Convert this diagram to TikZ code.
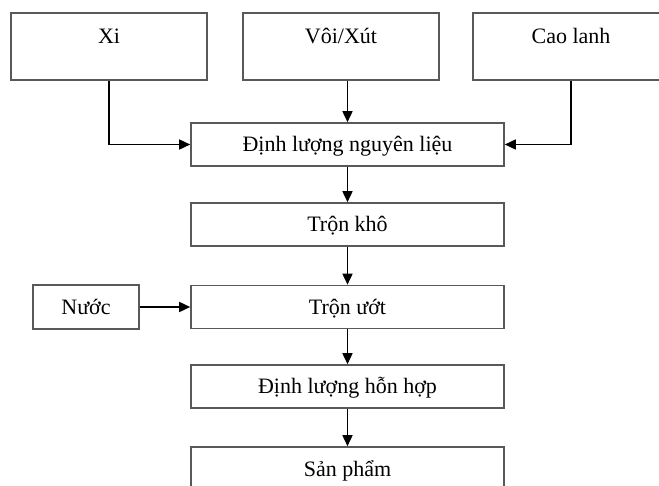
\documentclass[tikz,border=0pt]{standalone}
\usepackage{fontspec}
\setmainfont{Liberation Serif}
\usetikzlibrary{arrows.meta}

\tikzset{
  box/.style={draw=black!65, line width=1.6pt, minimum width=313pt,
    minimum height=43pt, inner sep=0pt, text height=15pt, text depth=0pt,
    font=\fontsize{22}{26}\selectfont},
  srcbox/.style={box, minimum width=196pt, minimum height=67pt, text depth=20pt},
  flow/.style={-{Triangle[length=11pt,width=10pt]}, line width=1.6pt},
}

\begin{document}
\begin{tikzpicture}[x=1pt,y=-1pt]
  \useasboundingbox (0,0) rectangle (659,486);
  \clip (0,0) rectangle (659,486);

  %% raw materials
  \node[srcbox] (xi)  at (109,46.5) {Xi};
  \node[srcbox] (voi) at (341,46.5) {Vôi/Xút};
  \node[srcbox] (cao) at (571,46.5) {Cao lanh};

  %% main line
  \node[box] (dlnl)    at (347.5,144.5) {Định lượng nguyên liệu};
  \node[box] (tronkho) at (347.5,224.5) {Trộn khô};
  \node[box] (tronuot) at (347.5,307)   {Trộn ướt};
  \node[box] (dlhh)    at (347.5,386.5) {Định lượng hỗn hợp};
  \node[box] (sanpham) at (347.5,468.5) {Sản phẩm};

  %% water
  \node[box, minimum width=106pt, minimum height=44pt] (nuoc) at (86,307) {Nước};

  %% arrows
  \draw[flow] (xi.south) |- (dlnl.west);
  \draw[flow] (voi.south -| dlnl.north) -- (dlnl.north);
  \draw[flow] (cao.south) |- (dlnl.east);
  \draw[flow] (dlnl.south) -- (tronkho.north);
  \draw[flow] (tronkho.south) -- (tronuot.north);
  \draw[flow] (nuoc.east) -- (tronuot.west);
  \draw[flow] (tronuot.south) -- (dlhh.north);
  \draw[flow] (dlhh.south) -- (sanpham.north);

\end{tikzpicture}
\end{document}
